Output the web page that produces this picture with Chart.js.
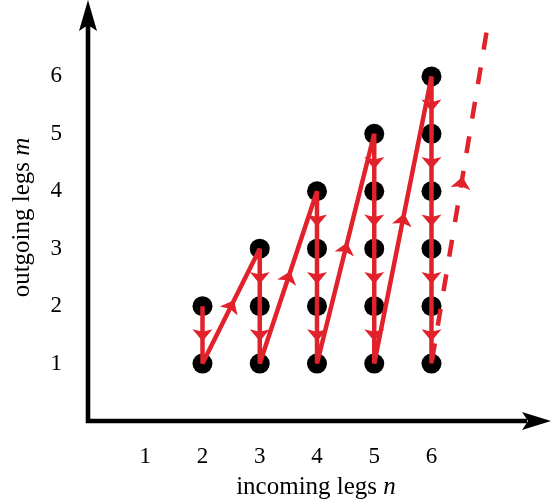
<!DOCTYPE html>
<html>
<head>
<meta charset="utf-8">
<script src="https://cdn.jsdelivr.net/npm/chart.js@4.4.1/dist/chart.umd.min.js"></script>
<style>
  body { margin: 0; background: #fff; }
  canvas { display: block; }
</style>
</head>
<body>
<canvas id="chart" width="552" height="502"></canvas>
<script>
// columns of dots: n = incoming legs, each column holds m = 1 .. topOutgoing
const incomingLegs = [2, 3, 4, 5, 6];
const topOutgoing = [2, 3, 4, 5, 6];

// red path (solid), walked in this order
const pathN = [2, 2, 3, 3, 4, 4, 5, 5, 6, 6];
const pathM = [2, 1, 3, 1, 4, 1, 5, 1, 6, 1];

// dashed continuation, drawn from the top end down to (6, 1)
const dashN = [6.96, 6];
const dashM = [6.76, 1];
const dashArrowAt = 0.545; // fraction along the dash from (6,1)

const xTickLabels = [1, 2, 3, 4, 5, 6];
const yTickLabels = [1, 2, 3, 4, 5, 6];

const RED = '#e2222b';
const FONT = 'Liberation Serif';

const dots = [];
incomingLegs.forEach((n, i) => {
  for (let m = 1; m <= topOutgoing[i]; m++) dots.push({ x: n, y: m });
});
const pathPts = pathN.map((n, i) => ({ x: n, y: pathM[i] }));
const dashPts = dashN.map((n, i) => ({ x: n, y: dashM[i] }));

function arrowHead(ctx, x, y, ang) {
  ctx.save();
  ctx.translate(x, y);
  ctx.rotate(ang);
  ctx.beginPath();
  ctx.moveTo(6.5, 0);
  ctx.lineTo(-5.5, -10);
  ctx.lineTo(-3, 0);
  ctx.lineTo(-5.5, 10);
  ctx.closePath();
  ctx.fill();
  ctx.restore();
}

const arrowsPlugin = {
  id: 'arrows',
  afterDatasetsDraw(chart) {
    const ctx = chart.ctx;
    const xs = chart.scales.x, ys = chart.scales.y;
    const px = p => ({ x: xs.getPixelForValue(p.x), y: ys.getPixelForValue(p.y) });
    ctx.save();
    ctx.fillStyle = RED;
    for (let i = 0; i < pathPts.length - 1; i++) {
      const a = pathPts[i], b = pathPts[i + 1];
      const pa = px(a), pb = px(b);
      const ang = Math.atan2(pb.y - pa.y, pb.x - pa.x);
      if (a.x === b.x) {
        const step = b.y < a.y ? -1 : 1;
        for (let m = a.y + step / 2; step < 0 ? m > b.y : m < b.y; m += step) {
          const p = px({ x: a.x, y: m });
          arrowHead(ctx, p.x, p.y, ang);
        }
      } else {
        arrowHead(ctx, (pa.x + pb.x) / 2, (pa.y + pb.y) / 2, ang);
      }
    }
    // dashed segment arrow, pointing up
    const d0 = px(dashPts[1]), d1 = px(dashPts[0]);
    arrowHead(ctx, d0.x + (d1.x - d0.x) * dashArrowAt, d0.y + (d1.y - d0.y) * dashArrowAt,
      Math.atan2(d1.y - d0.y, d1.x - d0.x));
    ctx.restore();
  },
  beforeDatasetsDraw(chart) {
    // the two axes with arrow tips
    const ctx = chart.ctx;
    const ox = chart.scales.x.getPixelForValue(0);
    const oy = chart.scales.y.getPixelForValue(0);
    const w = chart.width;
    ctx.save();
    ctx.strokeStyle = '#000';
    ctx.fillStyle = '#000';
    ctx.lineWidth = 4.6;
    ctx.beginPath();
    ctx.moveTo(ox - 2.3, oy);
    ctx.lineTo(w - 25, oy);
    ctx.moveTo(ox, oy + 2.3);
    ctx.lineTo(ox, 25);
    ctx.stroke();
    // x tip
    ctx.beginPath();
    ctx.moveTo(w - 1, oy);
    ctx.lineTo(w - 30, oy - 9);
    ctx.lineTo(w - 24, oy);
    ctx.lineTo(w - 30, oy + 9);
    ctx.closePath();
    ctx.fill();
    // y tip
    ctx.beginPath();
    ctx.moveTo(ox, 0);
    ctx.lineTo(ox - 9, 31);
    ctx.lineTo(ox, 25);
    ctx.lineTo(ox + 9, 31);
    ctx.closePath();
    ctx.fill();

    // axis titles with italic variable
    ctx.fillStyle = '#000';
    ctx.textBaseline = 'middle';
    const ca = chart.chartArea;
    const drawTitle = (plain, it) => {
      ctx.font = '25px "' + FONT + '"';
      const w1 = ctx.measureText(plain).width;
      ctx.font = 'italic 25px "' + FONT + '"';
      const w2 = ctx.measureText(it).width;
      const start = -(w1 + w2) / 2;
      ctx.font = '25px "' + FONT + '"';
      ctx.textAlign = 'left';
      ctx.fillText(plain, start, 0);
      ctx.font = 'italic 25px "' + FONT + '"';
      ctx.fillText(it, start + w1, 0);
    };
    ctx.save();
    ctx.translate((ca.left + ca.right) / 2 - 3, ca.bottom + 66);
    drawTitle('incoming legs ', 'n');
    ctx.restore();
    ctx.save();
    ctx.translate(22, (ca.top + ca.bottom) / 2 + 7);
    ctx.rotate(-Math.PI / 2);
    drawTitle('outgoing legs ', 'm');
    ctx.restore();
    ctx.restore();
  }
};

new Chart(document.getElementById('chart'), {
  type: 'scatter',
  data: {
    datasets: [
      {
        data: pathPts,
        showLine: true,
        borderColor: RED,
        borderWidth: 4.5,
        borderJoinStyle: 'bevel',
        pointRadius: 0,
        clip: false,
        order: 1
      },
      {
        data: dashPts,
        showLine: true,
        borderColor: RED,
        borderWidth: 4.5,
        borderDash: [17, 18],
        pointRadius: 0,
        clip: false,
        order: 1
      },
      {
        data: dots,
        pointRadius: 10,
        pointBackgroundColor: '#000',
        pointBorderWidth: 0,
        clip: false,
        order: 2
      }
    ]
  },
  options: {
    responsive: false,
    animation: false,
    layout: { autoPadding: false, padding: { left: 0, right: 2, top: 0, bottom: 0 } },
    plugins: { legend: { display: false }, tooltip: { enabled: false } },
    scales: {
      x: {
        type: 'linear',
        min: 0,
        max: 8.07,
        grid: { display: false, drawTicks: false },
        border: { display: false },
        ticks: { color: '#000', font: { family: FONT, size: 23 }, padding: 22, maxRotation: 0 },
        afterBuildTicks: s => { s.ticks = xTickLabels.map(v => ({ value: v })); },
        afterFit: s => { s.height = 81; s.paddingLeft = 0; s.paddingRight = 0; }
      },
      y: {
        type: 'linear',
        min: 0,
        max: 7.33,
        grid: { display: false, drawTicks: false },
        border: { display: false },
        ticks: { color: '#000', font: { family: FONT, size: 23 }, padding: 26 },
        afterBuildTicks: s => { s.ticks = yTickLabels.map(v => ({ value: v })); },
        afterFit: s => { s.width = 88; s.paddingTop = 0; s.paddingBottom = 0; }
      }
    }
  },
  plugins: [arrowsPlugin]
});
</script>
</body>
</html>
